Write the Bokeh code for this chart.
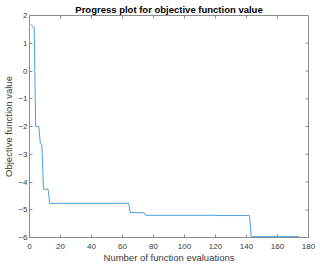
import math
from bokeh.plotting import figure
from bokeh.models import FixedTicker, Range1d
from bokeh.embed import file_html
from bokeh.resources import INLINE

# Data: best objective value found vs. number of function evaluations
evals = [1, 2, 3, 4, 6, 7, 8, 9, 12, 13, 64, 65, 74, 75, 120, 121, 142, 143, 174]
objective = [1.68, 1.60, 1.57, -2.00, -2.00, -2.62, -2.66, -4.26, -4.26, -4.77,
             -4.77, -5.10, -5.11, -5.20, -5.20, -5.21, -5.21, -5.97, -5.97]

x_ticks = [0, 20, 40, 60, 80, 100, 120, 140, 160, 180]
y_ticks = [-6, -5, -4, -3, -2, -1, 0, 1, 2]

title_text = "Progress plot for objective function value"
x_label = "Number of function evaluations"
y_label = "Objective function value"

FONT = "Liberation Sans"
AXIS_COL = "#8c8c8c"
TEXT_COL = "#3a3a3a"

p = figure(width=320, height=267, output_backend="svg", toolbar_location=None,
           x_range=Range1d(x_ticks[0], x_ticks[-1]), y_range=Range1d(y_ticks[0], y_ticks[-1]),
           title=title_text,
           min_border_left=28, min_border_right=12, min_border_top=15, min_border_bottom=30,
           x_axis_label=x_label, y_axis_label=y_label)

p.title.align = "center"
p.title.text_font = FONT
p.title.text_font_size = "9.5px"
p.title.text_font_style = "bold"
p.title.text_color = "#000000"
p.title.standoff = 2
p.title.offset = 0

p.xgrid.visible = False
p.ygrid.visible = False
p.outline_line_color = AXIS_COL
p.outline_line_width = 1
p.background_fill_color = "white"
p.border_fill_color = "white"

def style_axis(ax, ticks):
    ax.ticker = FixedTicker(ticks=ticks)
    ax.minor_tick_line_color = None
    ax.major_tick_in = 3
    ax.major_tick_out = 0
    ax.major_tick_line_color = AXIS_COL
    ax.axis_line_color = AXIS_COL
    ax.major_label_text_font = FONT
    ax.major_label_text_color = TEXT_COL
    ax.major_label_text_font_size = "8px"
    ax.axis_label_text_font = FONT
    ax.axis_label_text_font_style = "normal"
    ax.axis_label_text_color = TEXT_COL
    ax.axis_label_text_font_size = "9.5px"

style_axis(p.xaxis[0], x_ticks)
p.xaxis[0].major_label_standoff = 6
p.xaxis[0].axis_label_standoff = 0
style_axis(p.yaxis[0], y_ticks)
p.yaxis[0].major_label_standoff = 2
p.yaxis[0].axis_label_standoff = 1

# Inward ticks on top and right edges of the box (clipped to the frame)
p.scatter(x=x_ticks, y=[y_ticks[-1]] * len(x_ticks), marker="dash", angle=math.pi / 2,
          size=6, line_color=AXIS_COL, line_width=1)
p.scatter(x=[x_ticks[-1]] * len(y_ticks), y=y_ticks, marker="dash",
          size=6, line_color=AXIS_COL, line_width=1)

p.line(evals, objective, line_color="#4a9fdc", line_width=1)

open("out.html", "w").write(file_html(p, INLINE))
